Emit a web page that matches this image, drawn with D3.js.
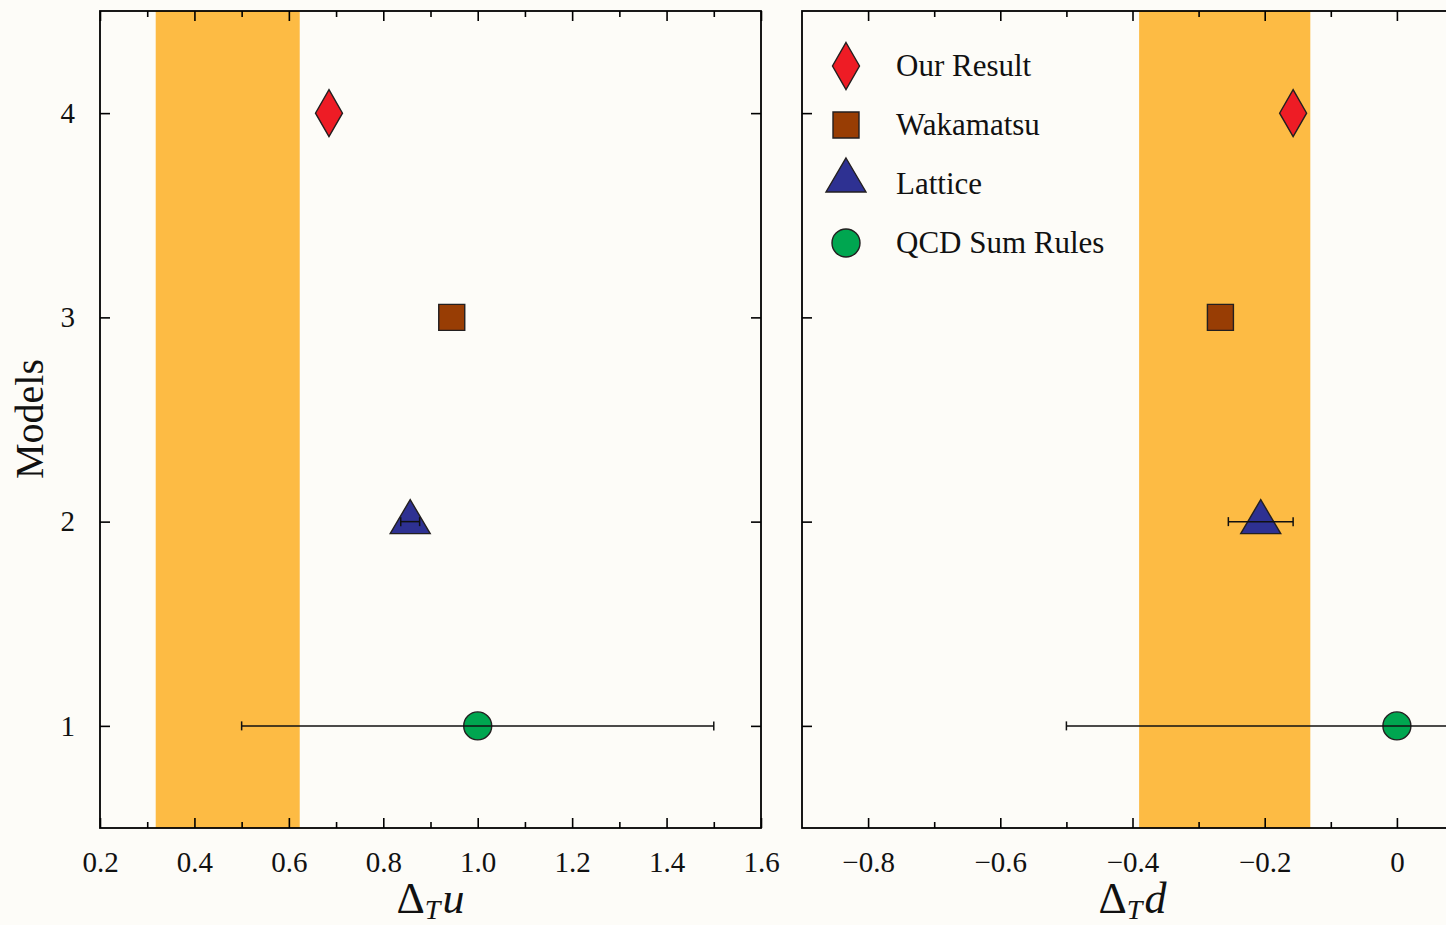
<!DOCTYPE html>
<html>
<head>
<meta charset="utf-8">
<script src="https://cdn.jsdelivr.net/npm/d3@7.9.0/dist/d3.min.js"></script>
<style>
  html, body { margin: 0; padding: 0; background: #fdfcf8; }
  svg { display: block; font-family: "Liberation Serif", "DejaVu Serif", serif; }
</style>
</head>
<body>
<svg id="chart" width="1446" height="925"></svg>
<script>
// data
const seriesNames = ['Our Result', 'Wakamatsu', 'Lattice', 'QCD Sum Rules'];
const seriesShapes = ['diamond', 'square', 'triangle', 'circle'];
const seriesColors = ['#ee1c25', '#983d04', '#2e3192', '#00a650'];
const modelIndex = [4, 3, 2, 1];

const deltaU = [0.685, 0.945, 0.857, 1.0];
const deltaUErr = [0, 0, 0.02, 0.5];
const deltaD = [-0.157, -0.267, -0.206, 0.0];
const deltaDErr = [0, 0, 0.049, 0.5];

const bandU = [0.318, 0.623];
const bandD = [-0.39, -0.131];

const yTicks = [1, 2, 3, 4];
const uMajor = [0.2, 0.4, 0.6, 0.8, 1.0, 1.2, 1.4, 1.6];
const uMinor = [0.3, 0.5, 0.7, 0.9, 1.1, 1.3, 1.5];
const uLabels = ['0.2', '0.4', '0.6', '0.8', '1.0', '1.2', '1.4', '1.6'];
const dMajor = [-0.8, -0.6, -0.4, -0.2, 0];
const dMinor = [-0.7, -0.5, -0.3, -0.1];
const dLabels = ['\u22120.8', '\u22120.6', '\u22120.4', '\u22120.2', '0'];

const svg = d3.select('#chart');
const plotTop = 11, plotBottom = 828;
const panelW = 661;
const stroke = '#231f20';

const y = d3.scaleLinear().domain([0.5, 4.5]).range([plotBottom, plotTop]);

// marker paths, centred on the data point
function markerPath(shape) {
    const p = d3.path();
    if (shape === 'diamond') {
        p.moveTo(0, -23.5); p.lineTo(13.5, 0); p.lineTo(0, 23.5); p.lineTo(-13.5, 0); p.closePath();
    } else if (shape === 'square') {
        p.rect(-13, -13, 26, 26);
    } else if (shape === 'triangle') {
        p.moveTo(0, -22); p.lineTo(20, 12); p.lineTo(-20, 12); p.closePath();
    } else {
        p.arc(0, 0, 14, 0, 2 * Math.PI);
    }
    return p.toString();
}

function drawPanel(left, domain, values, errors, band, major, minor, labels, sym) {
    const x = d3.scaleLinear().domain(domain).range([left, left + panelW]);
    const g = svg.append('g');

    // shaded band
    g.append('rect')
        .attr('x', x(band[0])).attr('y', plotTop)
        .attr('width', x(band[1]) - x(band[0])).attr('height', plotBottom - plotTop)
        .attr('fill', '#fdbb44');

    const fmt = (d, i) => labels[i];

    // bottom ticks with labels
    const bAxis = g.append('g').attr('transform', `translate(0,${plotBottom})`)
        .call(d3.axisBottom(x).tickValues(major).tickSize(-10).tickFormat(fmt));
    bAxis.selectAll('text').attr('y', 0).attr('dy', 44)
        .attr('font-size', 29).attr('fill', '#111');
    g.append('g').attr('transform', `translate(0,${plotBottom})`)
        .call(d3.axisBottom(x).tickValues(minor).tickSize(-6).tickFormat(''));
    // top ticks
    g.append('g').attr('transform', `translate(0,${plotTop})`)
        .call(d3.axisTop(x).tickValues(major).tickSize(-10).tickFormat(''));
    g.append('g').attr('transform', `translate(0,${plotTop})`)
        .call(d3.axisTop(x).tickValues(minor).tickSize(-6).tickFormat(''));
    // left / right ticks
    const lAxis = g.append('g').attr('transform', `translate(${left},0)`)
        .call(d3.axisLeft(y).tickValues(yTicks).tickSize(-10).tickPadding(25).tickFormat(d3.format('d')));
    lAxis.selectAll('text').attr('font-size', 29).attr('fill', '#111')
        .attr('opacity', left < 200 ? 1 : 0);
    g.append('g').attr('transform', `translate(${left + panelW},0)`)
        .call(d3.axisRight(y).tickValues(yTicks).tickSize(-10).tickFormat(''));

    g.selectAll('.domain').remove();
    g.selectAll('g').attr('font-family', null);
    g.selectAll('.tick line').attr('stroke', '#000').attr('stroke-width', 1.6);

    // frame
    g.append('rect')
        .attr('x', left).attr('y', plotTop).attr('width', panelW).attr('height', plotBottom - plotTop)
        .attr('fill', 'none').attr('stroke', '#000').attr('stroke-width', 1.8);

    // markers
    g.selectAll('path.mark').data(values).join('path')
        .attr('class', 'mark')
        .attr('d', (d, i) => markerPath(seriesShapes[i]))
        .attr('transform', (d, i) => `translate(${x(d)},${y(modelIndex[i])})`)
        .attr('fill', (d, i) => seriesColors[i])
        .attr('stroke', stroke).attr('stroke-width', 1.4);

    // error bars, drawn over the markers
    const eb = g.selectAll('g.err').data(values.map((v, i) => ({ v, e: errors[i], m: modelIndex[i] })).filter(d => d.e > 0))
        .join('g').attr('class', 'err').attr('stroke', '#111').attr('stroke-width', 1.5);
    eb.append('line')
        .attr('x1', d => x(d.v - d.e)).attr('x2', d => x(d.v + d.e))
        .attr('y1', d => y(d.m)).attr('y2', d => y(d.m));
    eb.append('line')
        .attr('x1', d => x(d.v - d.e)).attr('x2', d => x(d.v - d.e))
        .attr('y1', d => y(d.m) - 4.5).attr('y2', d => y(d.m) + 4.5);
    eb.append('line')
        .attr('x1', d => x(d.v + d.e)).attr('x2', d => x(d.v + d.e))
        .attr('y1', d => y(d.m) - 4.5).attr('y2', d => y(d.m) + 4.5);

    // axis label: Delta_T u / Delta_T d
    const lab = svg.append('text')
        .attr('x', left + panelW / 2).attr('y', 913)
        .attr('text-anchor', 'middle').attr('font-size', 44).attr('fill', '#111');
    lab.append('tspan').text('\u0394');
    lab.append('tspan').attr('font-size', 28).attr('font-style', 'italic').attr('dy', 6).text('T');
    lab.append('tspan').attr('font-style', 'italic').attr('dy', -6).attr('dx', 2).text(sym);

    return x;
}

drawPanel(100, [0.2, 1.6], deltaU, deltaUErr, bandU, uMajor, uMinor, uLabels, 'u');
drawPanel(802, [-0.9, 0.1], deltaD, deltaDErr, bandD, dMajor, dMinor, dLabels, 'd');

// y axis title
svg.append('text')
    .attr('transform', 'translate(43,419) rotate(-90)')
    .attr('text-anchor', 'middle').attr('font-size', 40).attr('fill', '#111')
    .text('Models');

// legend
const legend = svg.append('g');
const rows = legend.selectAll('g').data(seriesNames).join('g')
    .attr('transform', (d, i) => `translate(846,${66 + i * 59})`);
rows.append('path')
    .attr('d', (d, i) => markerPath(seriesShapes[i]))
    .attr('transform', (d, i) => seriesShapes[i] === 'triangle' ? 'translate(0,-4)' : null)
    .attr('fill', (d, i) => seriesColors[i])
    .attr('stroke', stroke).attr('stroke-width', 1.4);
rows.append('text')
    .attr('x', 50).attr('y', 10)
    .attr('font-size', 31).attr('fill', '#111')
    .text(d => d);
</script>
</body>
</html>
